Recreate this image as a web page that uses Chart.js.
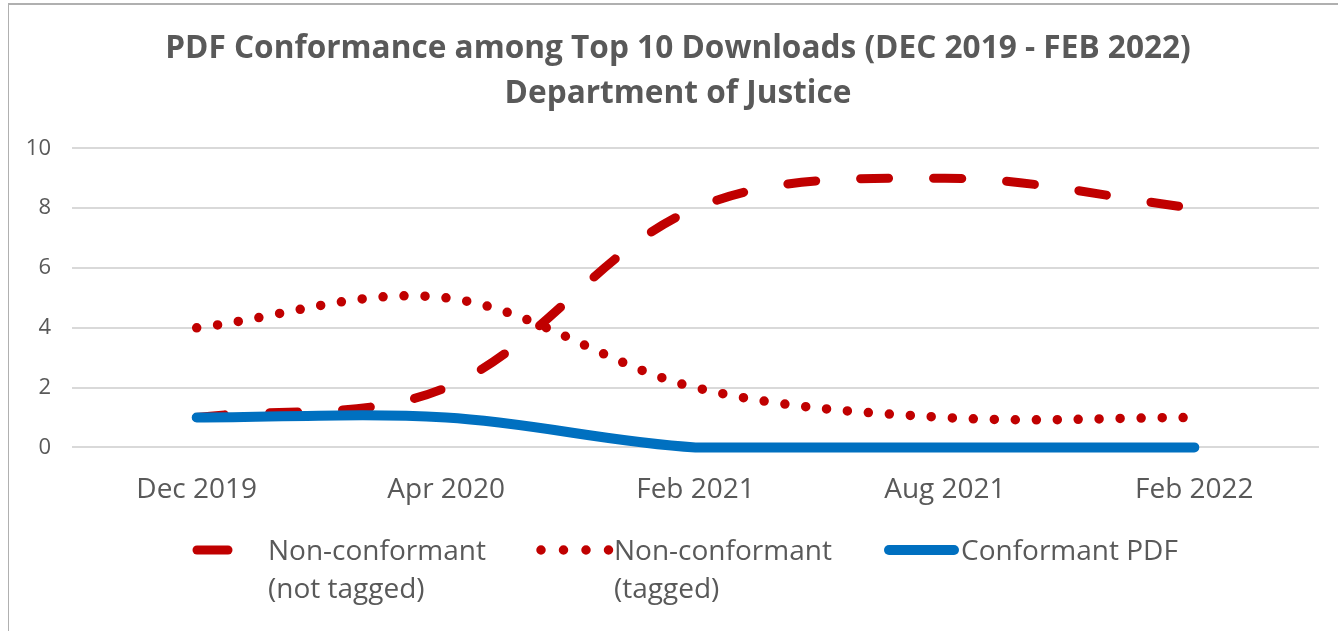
<!DOCTYPE html>
<html>
<head>
<meta charset="utf-8">
<script src="https://cdn.jsdelivr.net/npm/chart.js@4/dist/chart.umd.min.js"></script>
<style>
  html, body { margin: 0; padding: 0; background: #fff; }
  #wrap { position: relative; width: 1338px; height: 631px; overflow: hidden; }
  #frame { position: absolute; left: 8px; top: 3px; right: 0; bottom: 0; border-left: 1px solid #b0b0b0; border-top: 2px solid #b0b0b0; }
  canvas { position: absolute; left: 0; top: 0; }
  .lg { position: absolute; font-family: "Open Sans", sans-serif; font-size: 28px; color: #595959; line-height: 38px; white-space: nowrap; }
</style>
</head>
<body>
<div id="wrap">
  <div id="frame"></div>
  <canvas id="pdf" width="1338" height="631"></canvas>
  <div class="lg" style="left:268px; top:530px;">Non-conformant<br>(not tagged)</div>
  <div class="lg" style="left:614px; top:530px;">Non-conformant<br>(tagged)</div>
  <div class="lg" style="left:961px; top:530px;">Conformant PDF</div>
  <svg style="position:absolute; left:180px; top:540px;" width="800" height="20">
    <line x1="17" y1="10" x2="48" y2="10" stroke="#C00000" stroke-width="9" stroke-linecap="round"/>
    <line x1="361" y1="10" x2="430" y2="10" stroke="#C00000" stroke-width="9.5" stroke-linecap="round" stroke-dasharray="0 22.5"/>
    <line x1="709" y1="10" x2="774" y2="10" stroke="#0070C0" stroke-width="10" stroke-linecap="round"/>
  </svg>
</div>
<script>
// values
var months = ["Dec 2019", "Apr 2020", "Feb 2021", "Aug 2021", "Feb 2022"];
var notTagged = [1, 2, 8, 9, 8];
var tagged = [4, 5, 2, 1, 1];
var conformant = [1, 1, 0, 0, 0];
var yTicks = [0, 2, 4, 6, 8, 10];

var grey = "#595959";

// the original title sits a bit right of the canvas centre
var titleShift = {
    id: 'titleShift',
    afterLayout: function (chart) {
        if (chart.titleBlock) {
            chart.titleBlock.left += 37;
        }
    }
};

var ctx = document.getElementById('pdf').getContext('2d');
var chart = new Chart(ctx, {
    type: 'line',
    data: {
        labels: months,
        datasets: [{
            label: "Conformant PDF",
            data: conformant,
            borderColor: "#0070C0",
            borderWidth: 10,
            borderCapStyle: 'round',
            order: 0
        }, {
            label: "Non-conformant (not tagged)",
            data: notTagged,
            borderColor: "#C00000",
            borderWidth: 9,
            borderCapStyle: 'round',
            borderDash: [28, 45],
            order: 1
        }, {
            label: "Non-conformant (tagged)",
            data: tagged,
            borderColor: "#C00000",
            borderWidth: 9.5,
            borderCapStyle: 'round',
            borderDash: [0, 21],
            order: 2
        }]
    },
    plugins: [titleShift],
    options: {
        responsive: false,
        animation: false,
        layout: { padding: { left: 0, right: 19, top: 0, bottom: 98 } },
        elements: {
            point: { radius: 0, hoverRadius: 0 },
            line: { tension: 0.35, fill: false }
        },
        datasets: { line: { clip: 12 } },
        plugins: {
            legend: { display: false },
            tooltip: { enabled: false },
            title: {
                display: true,
                text: ["PDF Conformance among Top 10 Downloads (DEC 2019 - FEB 2022)", "Department of Justice"],
                color: grey,
                font: { family: "Open Sans", size: 31.6, weight: 'bold', lineHeight: 1.43 },
                padding: { top: 26, bottom: 32 }
            }
        },
        scales: {
            x: {
                offset: true,
                grid: { display: false, drawTicks: false },
                border: { display: false },
                ticks: {
                    color: grey,
                    padding: 26,
                    maxRotation: 0,
                    font: { family: "Open Sans", size: 28 }
                }
            },
            y: {
                min: 0,
                max: 10,
                afterFit: function (scale) { scale.width = 72; },
                afterBuildTicks: function (scale) {
                    scale.ticks = yTicks.map(function (v) { return { value: v }; });
                },
                grid: { color: "#d9d9d9", lineWidth: 2, drawTicks: false },
                border: { display: false },
                ticks: {
                    color: grey,
                    padding: 21,
                    font: { family: "Open Sans", size: 22 }
                }
            }
        }
    }
});
</script>
</body>
</html>
